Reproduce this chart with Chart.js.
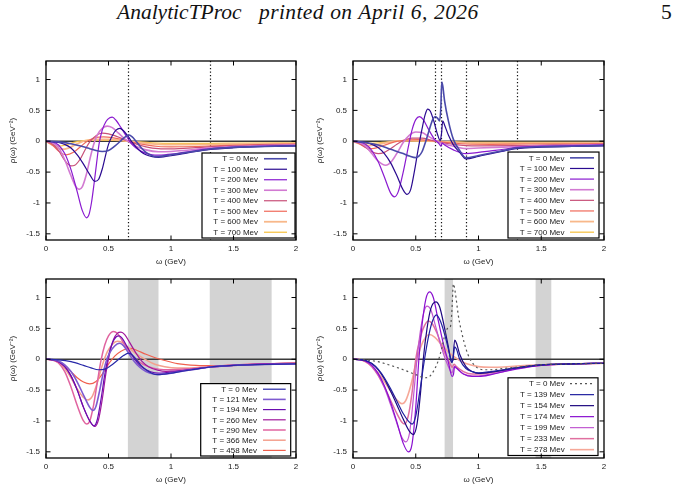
<!DOCTYPE html>
<html>
<head>
<meta charset="utf-8">
<script src="https://cdn.jsdelivr.net/npm/chart.js@4.4.1/dist/chart.umd.min.js"></script>
<style>
html,body{margin:0;padding:0;background:#fff;}
body{width:675px;height:490px;position:relative;overflow:hidden;}
.hd{position:absolute;top:2px;font-family:"Liberation Serif","Times New Roman",serif;font-size:21.5px;line-height:21.5px;color:#111;white-space:nowrap;}
.it{font-style:italic;}
canvas{position:absolute;}
</style>
</head>
<body>
<div class="hd it" style="left:117px">AnalyticTProc</div>
<div class="hd it" style="left:259px;letter-spacing:0.4px;word-spacing:0.5px">printed on April 6, 2026</div>
<div class="hd" style="left:661px">5</div>
<canvas id="tl" width="340" height="220" style="left:0;top:55px"></canvas>
<canvas id="tr" width="340" height="220" style="left:307px;top:55px"></canvas>
<canvas id="bl" width="340" height="220" style="left:0;top:273px"></canvas>
<canvas id="br" width="340" height="220" style="left:307px;top:273px"></canvas>
<script>
// ---------- axis ticks ----------
const X_TICKS = [0, 0.5, 1, 1.5, 2];
const Y_TICKS = [-1.5, -1, -0.5, 0, 0.5, 1];
const X_RANGE = [0, 2];
const Y_RANGE = [-1.6, 1.3];
const X_TITLE = 'ω (GeV)';
const Y_TITLE = 'ρ(ω) (GeV⁻²)';

// ---------- top-left panel ----------
const TL_LABELS = ['T = 0 Mev','T = 100 Mev','T = 200 Mev','T = 300 Mev','T = 400 Mev','T = 500 Mev','T = 600 Mev','T = 700 Mev'];
const TL_T0 = [[0,0],[0.1,-0.01],[0.2,-0.04],[0.3,-0.09],[0.35,-0.12],[0.4,-0.15],[0.45,-0.165],[0.5,-0.15],[0.55,-0.08],[0.6,0.01],[0.64,0.08],[0.665,0.1],[0.69,0.07],[0.72,0],[0.76,-0.1],[0.8,-0.18],[0.85,-0.235],[0.88,-0.25],[0.92,-0.245],[1.0,-0.22],[1.1,-0.19],[1.2,-0.16],[1.3,-0.13],[1.5,-0.1],[1.75,-0.085],[2,-0.075]];
const TL_T100 = [[0,0],[0.05,-0.005],[0.1,-0.02],[0.15,-0.05],[0.2,-0.11],[0.25,-0.22],[0.3,-0.37],[0.35,-0.54],[0.39,-0.65],[0.42,-0.62],[0.45,-0.45],[0.48,-0.2],[0.5,-0.05],[0.53,0.09],[0.56,0.18],[0.59,0.21],[0.62,0.17],[0.66,0.07],[0.69,-0.02],[0.72,-0.09],[0.76,-0.17],[0.8,-0.22],[0.85,-0.25],[0.9,-0.26],[0.95,-0.25],[1.0,-0.235],[1.1,-0.2],[1.2,-0.165],[1.3,-0.135],[1.5,-0.105],[1.75,-0.085],[2,-0.075]];
const TL_T200 = [[0,0],[0.05,-0.01],[0.1,-0.06],[0.15,-0.2],[0.2,-0.46],[0.25,-0.82],[0.29,-1.12],[0.325,-1.24],[0.345,-1.18],[0.365,-0.98],[0.385,-0.68],[0.405,-0.35],[0.425,-0.04],[0.45,0.18],[0.48,0.32],[0.51,0.38],[0.53,0.39],[0.56,0.34],[0.6,0.22],[0.65,0.06],[0.68,-0.03],[0.72,-0.11],[0.78,-0.18],[0.85,-0.22],[0.9,-0.225],[0.95,-0.22],[1.0,-0.21],[1.1,-0.18],[1.2,-0.15],[1.3,-0.125],[1.5,-0.095],[1.75,-0.08],[2,-0.07]];
const TL_T300 = [[0,0],[0.05,-0.02],[0.1,-0.1],[0.15,-0.3],[0.2,-0.56],[0.24,-0.74],[0.265,-0.78],[0.29,-0.74],[0.32,-0.56],[0.35,-0.3],[0.38,-0.06],[0.41,0.1],[0.45,0.21],[0.49,0.245],[0.53,0.22],[0.58,0.13],[0.63,0.04],[0.68,-0.03],[0.72,-0.08],[0.8,-0.14],[0.9,-0.17],[1.0,-0.165],[1.1,-0.15],[1.2,-0.13],[1.3,-0.11],[1.5,-0.085],[1.75,-0.07],[2,-0.06]];
const TL_T400 = [[0,0],[0.05,-0.04],[0.1,-0.15],[0.15,-0.31],[0.2,-0.4],[0.23,-0.39],[0.27,-0.3],[0.31,-0.15],[0.35,-0.01],[0.4,0.09],[0.45,0.13],[0.5,0.12],[0.55,0.09],[0.6,0.05],[0.65,0.01],[0.7,-0.03],[0.8,-0.09],[0.9,-0.12],[1.0,-0.125],[1.1,-0.115],[1.2,-0.105],[1.3,-0.09],[1.5,-0.075],[1.75,-0.06],[2,-0.05]];
const TL_T500 = [[0,0],[0.05,-0.06],[0.1,-0.16],[0.16,-0.22],[0.22,-0.18],[0.28,-0.08],[0.33,0],[0.4,0.06],[0.46,0.07],[0.55,0.05],[0.65,0.01],[0.7,-0.02],[0.8,-0.06],[0.9,-0.085],[1.0,-0.09],[1.2,-0.085],[1.4,-0.07],[1.7,-0.055],[2,-0.045]];
const TL_T600 = [[0,0],[0.05,-0.06],[0.12,-0.13],[0.18,-0.11],[0.24,-0.05],[0.3,0],[0.4,0.03],[0.5,0.03],[0.6,0.015],[0.7,-0.01],[0.8,-0.035],[0.9,-0.05],[1.0,-0.055],[1.2,-0.055],[1.5,-0.045],[2,-0.035]];
const TL_T700 = [[0,0],[0.05,-0.05],[0.1,-0.08],[0.16,-0.06],[0.22,-0.02],[0.3,0.01],[0.4,0.02],[0.55,0.015],[0.7,-0.005],[0.85,-0.025],[1.0,-0.035],[1.3,-0.035],[1.6,-0.03],[2,-0.025]];
const TL_VLINES = [0.655, 1.31];

// ---------- top-right panel ----------
const TR_LABELS = TL_LABELS;
const TR_T0 = [[0,0],[0.1,-0.02],[0.2,-0.06],[0.3,-0.13],[0.4,-0.2],[0.45,-0.24],[0.5,-0.265],[0.525,-0.24],[0.55,-0.17],[0.58,0],[0.61,0.2],[0.635,0.35],[0.655,0.4],[0.675,0.37],[0.69,0.33],[0.7,0.55],[0.707,0.96],[0.715,0.9],[0.73,0.65],[0.76,0.33],[0.8,0.03],[0.85,-0.15],[0.9,-0.27],[1.0,-0.23],[1.1,-0.19],[1.2,-0.15],[1.3,-0.11],[1.5,-0.09],[1.75,-0.08],[2,-0.07]];
const TR_T100 = [[0,0],[0.05,-0.005],[0.1,-0.02],[0.15,-0.05],[0.2,-0.1],[0.25,-0.2],[0.3,-0.35],[0.35,-0.56],[0.4,-0.79],[0.43,-0.86],[0.46,-0.78],[0.49,-0.48],[0.52,-0.12],[0.55,0.2],[0.575,0.43],[0.595,0.52],[0.615,0.49],[0.645,0.32],[0.675,0.1],[0.695,0.01],[0.705,0.12],[0.715,0.33],[0.73,0.26],[0.76,0.1],[0.8,-0.06],[0.85,-0.18],[0.9,-0.285],[1.0,-0.245],[1.1,-0.2],[1.2,-0.16],[1.3,-0.12],[1.5,-0.095],[1.75,-0.085],[2,-0.075]];
const TR_T200 = [[0,0],[0.05,-0.01],[0.1,-0.05],[0.15,-0.15],[0.2,-0.33],[0.25,-0.58],[0.3,-0.84],[0.33,-0.9],[0.36,-0.82],[0.4,-0.5],[0.44,-0.1],[0.47,0.18],[0.5,0.35],[0.53,0.4],[0.56,0.35],[0.6,0.2],[0.65,0.03],[0.69,-0.05],[0.7,-0.08],[0.71,-0.03],[0.73,-0.06],[0.8,-0.14],[0.9,-0.2],[1.0,-0.18],[1.1,-0.155],[1.2,-0.13],[1.3,-0.1],[1.5,-0.08],[1.75,-0.07],[2,-0.06]];
const TR_T300 = [[0,0],[0.05,-0.02],[0.1,-0.08],[0.15,-0.2],[0.2,-0.32],[0.26,-0.39],[0.31,-0.32],[0.36,-0.16],[0.4,-0.02],[0.45,0.1],[0.5,0.15],[0.55,0.14],[0.6,0.08],[0.66,0.01],[0.7,-0.03],[0.8,-0.08],[0.9,-0.12],[1.0,-0.11],[1.2,-0.095],[1.4,-0.08],[1.7,-0.065],[2,-0.055]];
const TR_T400 = [[0,0],[0.05,-0.03],[0.1,-0.1],[0.15,-0.17],[0.2,-0.2],[0.25,-0.18],[0.3,-0.12],[0.35,-0.05],[0.4,0.01],[0.47,0.05],[0.55,0.05],[0.62,0.02],[0.7,-0.02],[0.8,-0.05],[0.9,-0.07],[1.0,-0.075],[1.3,-0.07],[1.6,-0.06],[2,-0.05]];
const TR_T500 = [[0,0],[0.05,-0.04],[0.1,-0.1],[0.15,-0.12],[0.2,-0.1],[0.27,-0.05],[0.33,-0.01],[0.42,0.02],[0.52,0.025],[0.62,0.01],[0.7,-0.01],[0.8,-0.03],[0.9,-0.045],[1.1,-0.05],[1.4,-0.045],[2,-0.04]];
const TR_T600 = [[0,0],[0.05,-0.04],[0.12,-0.07],[0.18,-0.06],[0.25,-0.03],[0.33,0],[0.45,0.01],[0.6,0.005],[0.75,-0.01],[0.9,-0.025],[1.2,-0.03],[1.6,-0.03],[2,-0.025]];
const TR_T700 = [[0,0],[0.05,-0.025],[0.1,-0.04],[0.18,-0.03],[0.28,-0.01],[0.4,0.005],[0.6,0],[0.8,-0.01],[1.0,-0.02],[1.5,-0.02],[2,-0.02]];
const TR_VLINES = [0.656, 0.699, 0.903, 1.31];

// ---------- bottom-left panel ----------
const BL_LABELS = ['T = 0 Mev','T = 121 Mev','T = 194 Mev','T = 260 Mev','T = 290 Mev','T = 366 Mev','T = 458 Mev'];
const BL_T0 = [[0,0],[0.1,-0.01],[0.2,-0.04],[0.3,-0.1],[0.36,-0.14],[0.42,-0.17],[0.47,-0.16],[0.52,-0.1],[0.57,-0.02],[0.62,0.06],[0.66,0.1],[0.69,0.07],[0.72,0],[0.76,-0.1],[0.8,-0.17],[0.85,-0.23],[0.89,-0.25],[0.95,-0.24],[1.0,-0.225],[1.1,-0.19],[1.2,-0.16],[1.3,-0.13],[1.5,-0.1],[1.75,-0.085],[2,-0.075]];
const BL_T121 = [[0,0],[0.05,-0.005],[0.1,-0.03],[0.15,-0.09],[0.2,-0.2],[0.25,-0.37],[0.3,-0.58],[0.35,-0.78],[0.375,-0.83],[0.4,-0.76],[0.43,-0.5],[0.46,-0.2],[0.49,0.02],[0.53,0.17],[0.57,0.25],[0.59,0.26],[0.62,0.22],[0.66,0.1],[0.7,-0.02],[0.75,-0.13],[0.8,-0.2],[0.86,-0.24],[0.9,-0.245],[0.95,-0.24],[1.0,-0.225],[1.1,-0.19],[1.2,-0.16],[1.3,-0.13],[1.5,-0.1],[1.75,-0.085],[2,-0.075]];
const BL_T194 = [[0,0],[0.05,-0.01],[0.1,-0.04],[0.15,-0.12],[0.2,-0.27],[0.25,-0.5],[0.3,-0.78],[0.35,-1.0],[0.385,-1.08],[0.41,-0.98],[0.44,-0.65],[0.47,-0.25],[0.5,0.06],[0.53,0.26],[0.56,0.36],[0.585,0.38],[0.61,0.34],[0.65,0.2],[0.7,0.03],[0.75,-0.1],[0.8,-0.17],[0.87,-0.22],[0.92,-0.225],[1.0,-0.21],[1.1,-0.18],[1.2,-0.155],[1.3,-0.13],[1.5,-0.1],[1.75,-0.08],[2,-0.07]];
const BL_T260 = [[0,0],[0.05,-0.01],[0.1,-0.04],[0.15,-0.12],[0.2,-0.27],[0.25,-0.5],[0.3,-0.78],[0.35,-1.0],[0.39,-1.09],[0.42,-0.98],[0.45,-0.65],[0.48,-0.22],[0.51,0.1],[0.54,0.32],[0.57,0.42],[0.6,0.44],[0.63,0.4],[0.67,0.27],[0.72,0.1],[0.77,-0.04],[0.82,-0.12],[0.9,-0.18],[0.96,-0.195],[1.05,-0.19],[1.15,-0.17],[1.3,-0.13],[1.5,-0.1],[1.75,-0.075],[2,-0.065]];
const BL_T290 = [[0,0],[0.05,-0.01],[0.1,-0.06],[0.15,-0.2],[0.2,-0.45],[0.25,-0.75],[0.3,-1.0],[0.325,-1.05],[0.35,-1.0],[0.38,-0.75],[0.41,-0.38],[0.44,-0.02],[0.47,0.23],[0.5,0.38],[0.54,0.45],[0.57,0.42],[0.61,0.3],[0.65,0.17],[0.7,0.04],[0.75,-0.05],[0.82,-0.12],[0.9,-0.16],[1.0,-0.17],[1.1,-0.16],[1.2,-0.145],[1.3,-0.125],[1.5,-0.095],[1.75,-0.075],[2,-0.065]];
const BL_T366 = [[0,0],[0.05,-0.01],[0.1,-0.05],[0.15,-0.15],[0.2,-0.3],[0.25,-0.48],[0.3,-0.62],[0.335,-0.66],[0.37,-0.6],[0.41,-0.38],[0.45,-0.1],[0.49,0.12],[0.53,0.24],[0.57,0.29],[0.61,0.27],[0.66,0.19],[0.72,0.09],[0.8,-0.01],[0.87,-0.08],[0.95,-0.12],[1.05,-0.14],[1.15,-0.14],[1.3,-0.12],[1.5,-0.1],[1.75,-0.075],[2,-0.06]];
const BL_T458 = [[0,0],[0.05,-0.01],[0.1,-0.04],[0.15,-0.1],[0.2,-0.2],[0.25,-0.3],[0.3,-0.37],[0.35,-0.4],[0.4,-0.36],[0.45,-0.24],[0.5,-0.08],[0.55,0.05],[0.6,0.13],[0.65,0.17],[0.68,0.175],[0.72,0.15],[0.8,0.08],[0.88,0.02],[0.95,-0.02],[1.05,-0.07],[1.2,-0.1],[1.35,-0.105],[1.5,-0.095],[1.75,-0.075],[2,-0.06]];
const BL_BANDS = [[0.655, 0.9], [1.31, 1.805]];

// ---------- bottom-right panel ----------
const BR_LABELS = ['T = 0 Mev','T = 139 Mev','T = 154 Mev','T = 174 Mev','T = 199 Mev','T = 233 Mev','T = 278 Mev'];
const BR_T0 = [[0,0],[0.1,-0.01],[0.2,-0.04],[0.3,-0.1],[0.4,-0.17],[0.5,-0.25],[0.55,-0.29],[0.58,-0.3],[0.61,-0.28],[0.645,-0.18],[0.68,-0.02],[0.71,0.2],[0.735,0.42],[0.755,0.5],[0.775,0.52],[0.787,0.75],[0.8,1.22],[0.815,1.08],[0.84,0.7],[0.87,0.4],[0.9,0.17],[0.93,0.01],[0.97,-0.1],[1.0,-0.15],[1.05,-0.17],[1.1,-0.17],[1.2,-0.15],[1.3,-0.13],[1.5,-0.09],[1.75,-0.075],[2,-0.065]];
const BR_T139 = [[0,0],[0.05,-0.005],[0.1,-0.02],[0.15,-0.07],[0.2,-0.16],[0.25,-0.3],[0.3,-0.48],[0.35,-0.68],[0.4,-0.88],[0.44,-1.0],[0.47,-1.05],[0.5,-0.92],[0.53,-0.55],[0.57,0],[0.6,0.35],[0.63,0.6],[0.665,0.72],[0.7,0.6],[0.74,0.33],[0.77,0.08],[0.79,-0.05],[0.8,0.05],[0.81,0.2],[0.825,0.16],[0.85,0.0],[0.9,-0.15],[0.95,-0.2],[1.0,-0.22],[1.1,-0.2],[1.2,-0.17],[1.3,-0.14],[1.5,-0.09],[1.75,-0.075],[2,-0.065]];
const BR_T154 = [[0,0],[0.05,-0.005],[0.1,-0.02],[0.15,-0.07],[0.2,-0.17],[0.25,-0.32],[0.3,-0.52],[0.35,-0.74],[0.4,-0.97],[0.45,-1.17],[0.48,-1.22],[0.51,-1.05],[0.54,-0.5],[0.56,0],[0.59,0.5],[0.62,0.82],[0.66,0.93],[0.69,0.85],[0.73,0.5],[0.76,0.2],[0.785,-0.05],[0.795,-0.02],[0.81,0.31],[0.825,0.26],[0.85,0.08],[0.9,-0.12],[0.95,-0.2],[1.0,-0.23],[1.1,-0.21],[1.2,-0.175],[1.3,-0.14],[1.5,-0.09],[1.75,-0.075],[2,-0.065]];
const BR_T174 = [[0,0],[0.05,-0.005],[0.1,-0.03],[0.15,-0.1],[0.2,-0.23],[0.25,-0.43],[0.3,-0.7],[0.35,-1.02],[0.4,-1.36],[0.44,-1.5],[0.47,-1.38],[0.5,-0.78],[0.525,0],[0.55,0.55],[0.58,0.97],[0.61,1.09],[0.64,1.0],[0.68,0.62],[0.72,0.25],[0.76,-0.05],[0.79,-0.28],[0.8,-0.25],[0.81,-0.12],[0.83,-0.15],[0.88,-0.24],[0.95,-0.28],[1.0,-0.28],[1.1,-0.25],[1.2,-0.2],[1.3,-0.16],[1.5,-0.1],[1.75,-0.075],[2,-0.065]];
const BR_T199 = [[0,0],[0.05,-0.005],[0.1,-0.03],[0.15,-0.11],[0.2,-0.25],[0.25,-0.46],[0.3,-0.74],[0.35,-1.04],[0.39,-1.27],[0.42,-1.34],[0.45,-1.2],[0.48,-0.65],[0.51,0],[0.54,0.5],[0.57,0.8],[0.59,0.86],[0.62,0.8],[0.66,0.52],[0.7,0.22],[0.74,-0.02],[0.78,-0.2],[0.79,-0.22],[0.805,-0.12],[0.82,-0.14],[0.88,-0.24],[0.95,-0.27],[1.0,-0.27],[1.1,-0.24],[1.2,-0.2],[1.3,-0.15],[1.5,-0.1],[1.75,-0.075],[2,-0.065]];
const BR_T233 = [[0,0],[0.05,-0.005],[0.1,-0.04],[0.15,-0.12],[0.2,-0.26],[0.25,-0.45],[0.3,-0.67],[0.35,-0.88],[0.39,-1.02],[0.41,-1.05],[0.44,-0.92],[0.47,-0.55],[0.5,0],[0.53,0.3],[0.56,0.5],[0.6,0.62],[0.63,0.58],[0.67,0.42],[0.71,0.2],[0.75,0.02],[0.78,-0.1],[0.79,-0.13],[0.805,-0.08],[0.82,-0.11],[0.88,-0.2],[0.95,-0.24],[1.0,-0.24],[1.1,-0.22],[1.2,-0.18],[1.3,-0.14],[1.5,-0.095],[1.75,-0.075],[2,-0.065]];
const BR_T278 = [[0,0],[0.05,-0.005],[0.1,-0.04],[0.15,-0.11],[0.2,-0.22],[0.25,-0.36],[0.3,-0.52],[0.35,-0.66],[0.39,-0.72],[0.42,-0.67],[0.46,-0.43],[0.5,-0.08],[0.54,0.2],[0.58,0.36],[0.61,0.4],[0.65,0.36],[0.7,0.25],[0.75,0.14],[0.8,0.05],[0.85,-0.02],[0.9,-0.07],[1.0,-0.12],[1.1,-0.13],[1.2,-0.125],[1.3,-0.11],[1.5,-0.09],[1.75,-0.075],[2,-0.065]];
const BR_BANDS = [[0.73, 0.797], [1.455, 1.58]];

// ---------- styles ----------
const TOP_COLORS = ['#4a4aaa','#2a0a90','#8a1ad0','#d27ad2','#c85078','#f06a5a','#f8b88a','#f6c44a'];
const TOP_WIDTHS = [1.6,1.2,1.2,1.6,1.2,1.2,1.8,1.3];
const BL_COLORS = ['#2828a8','#7e5ad0','#6a0cb0','#a0189c','#e064a0','#f4a08e','#f0604e'];
const BL_WIDTHS = [1.2,1.6,1.2,1.2,1.5,1.5,1.2];
const BR_COLORS = ['#555555','#2020a0','#1e0880','#8a10d0','#c058d0','#e070a0','#f6a898'];
const BR_WIDTHS = [1.2,1.2,1.2,1.2,1.2,1.5,1.6];
const BR_DASHES = [[2,3],[],[],[],[],[],[]];

Chart.defaults.font.family = '"Liberation Sans", Arial, sans-serif';
Chart.defaults.color = '#1a1a1a';

function line(ctx, x0, y0, x1, y1) { ctx.beginPath(); ctx.moveTo(x0, y0); ctx.lineTo(x1, y1); ctx.stroke(); }

const panelPlugin = {
  id: 'panel',
  beforeDatasetsDraw(chart, args, o) {
    const ctx = chart.ctx, a = chart.chartArea, xs = chart.scales.x, ys = chart.scales.y;
    ctx.save();
    (o.bands || []).forEach(b => {
      const p0 = xs.getPixelForValue(b[0]), p1 = xs.getPixelForValue(b[1]);
      ctx.fillStyle = '#d3d3d3';
      ctx.fillRect(p0, a.top, p1 - p0, a.bottom - a.top);
    });
    ctx.strokeStyle = '#111'; ctx.lineWidth = 1.2; ctx.setLineDash([1.3, 2.2]);
    (o.vlines || []).forEach(v => {
      const p = Math.round(xs.getPixelForValue(v)) + 0.5;
      line(ctx, p, a.top, p, a.bottom);
    });
    ctx.setLineDash([]);
    const py = ys.getPixelForValue(0);
    ctx.strokeStyle = '#3a3a3a'; ctx.lineWidth = 1.4;
    line(ctx, a.left, py, a.right, py);
    ctx.restore();
  },
  afterDraw(chart, args, o) {
    const ctx = chart.ctx, a = chart.chartArea, xs = chart.scales.x, ys = chart.scales.y;
    ctx.save();
    // legend
    const L = o.legend, ds = chart.data.datasets;
    const right = a.right - L.dr, bottom = a.bottom - L.db;
    const h = ds.length * L.pitch + 2 * L.pad;
    const left = right - L.w, top = bottom - h;
    ctx.fillStyle = '#fff'; ctx.fillRect(left, top, L.w, h);
    ctx.strokeStyle = '#000'; ctx.lineWidth = 1.2; ctx.strokeRect(left, top, L.w, h);
    ctx.font = '8px "Liberation Sans", Arial, sans-serif';
    ctx.textAlign = 'right'; ctx.textBaseline = 'middle';
    ds.forEach((d, i) => {
      const cy = top + L.pad + L.pitch * (i + 0.5);
      ctx.fillStyle = '#1a1a1a';
      ctx.fillText(d.label, left + L.tx, cy + 0.5);
      ctx.strokeStyle = d.borderColor; ctx.lineWidth = d.borderWidth;
      ctx.setLineDash(d.borderDash || []);
      line(ctx, left + L.s0, cy, left + L.s1, cy);
      ctx.setLineDash([]);
    });
    // ticks and border
    ctx.strokeStyle = '#000'; ctx.lineWidth = 1;
    X_TICKS.forEach(v => {
      const p = xs.getPixelForValue(v);
      line(ctx, p, a.bottom, p, a.bottom - 4.5);
      line(ctx, p, a.top, p, a.top + 4.5);
    });
    Y_TICKS.forEach(v => {
      const p = ys.getPixelForValue(v);
      line(ctx, a.left, p, a.left + 4.5, p);
      line(ctx, a.right, p, a.right - 4.5, p);
    });
    ctx.lineWidth = 1.3;
    ctx.strokeRect(a.left, a.top, a.right - a.left, a.bottom - a.top);
    ctx.restore();
  }
};

function build(id, labels, series, colors, widths, dashes, padR, panel) {
  const datasets = series.map((s, i) => ({
    label: labels[i],
    data: s.map(p => ({ x: p[0], y: p[1] })),
    borderColor: colors[i],
    borderWidth: widths[i],
    borderDash: dashes ? dashes[i] : [],
    pointRadius: 0,
    fill: false,
    cubicInterpolationMode: 'monotone'
  }));
  const tickFont = { size: 8 };
  return new Chart(document.getElementById(id), {
    type: 'line',
    data: { datasets },
    options: {
      responsive: false, animation: false, devicePixelRatio: 1,
      layout: { padding: { left: 0, right: padR, top: 6, bottom: 0 } },
      plugins: { legend: { display: false }, tooltip: { enabled: false }, panel },
      scales: {
        x: {
          type: 'linear', min: X_RANGE[0], max: X_RANGE[1],
          afterBuildTicks: s => { s.ticks = X_TICKS.map(v => ({ value: v })); },
          afterFit: s => { s.height = 35; s.paddingLeft = 0; s.paddingRight = 0; },
          ticks: { font: tickFont, padding: 4, maxRotation: 0, autoSkip: false, color: '#1a1a1a', callback: v => String(v) },
          grid: { display: false, drawTicks: false }, border: { display: false },
          title: { display: true, text: X_TITLE, font: { size: 8 }, color: '#1a1a1a', padding: { top: 0, bottom: 8 } }
        },
        y: {
          type: 'linear', min: Y_RANGE[0], max: Y_RANGE[1],
          afterBuildTicks: s => { s.ticks = Y_TICKS.map(v => ({ value: v })); },
          afterFit: s => { s.width = 46; s.paddingTop = 0; s.paddingBottom = 0; },
          ticks: { font: tickFont, padding: 6, autoSkip: false, color: '#1a1a1a', callback: v => String(v) },
          grid: { display: false, drawTicks: false }, border: { display: false },
          title: { display: true, text: '\u00a0'.repeat(9) + Y_TITLE, font: { size: 8 }, color: '#1a1a1a', padding: { top: 8, bottom: 0 } }
        }
      }
    },
    plugins: [panelPlugin]
  });
}

build('tl', TL_LABELS, [TL_T0, TL_T100, TL_T200, TL_T300, TL_T400, TL_T500, TL_T600, TL_T700],
  TOP_COLORS, TOP_WIDTHS, null, 44,
  { vlines: TL_VLINES, legend: { dr: 1, db: 2, w: 93, pitch: 10.5, pad: 0.5, tx: 56, s0: 62, s1: 85 } });
build('tr', TR_LABELS, [TR_T0, TR_T100, TR_T200, TR_T300, TR_T400, TR_T500, TR_T600, TR_T700],
  TOP_COLORS, TOP_WIDTHS, null, 43,
  { vlines: TR_VLINES, legend: { dr: 5, db: 2, w: 91, pitch: 10.62, pad: 0.5, tx: 56.5, s0: 62, s1: 86 } });
build('bl', BL_LABELS, [BL_T0, BL_T121, BL_T194, BL_T260, BL_T290, BL_T366, BL_T458],
  BL_COLORS, BL_WIDTHS, null, 44,
  { bands: BL_BANDS, legend: { dr: 5.3, db: 2, w: 90, pitch: 10.2, pad: 0.5, tx: 56.3, s0: 62.3, s1: 85 } });
build('br', BR_LABELS, [BR_T0, BR_T139, BR_T154, BR_T174, BR_T199, BR_T233, BR_T278],
  BR_COLORS, BR_WIDTHS, BR_DASHES, 43,
  { bands: BR_BANDS, legend: { dr: 6, db: 2.5, w: 90, pitch: 11, pad: 0.35, tx: 56.7, s0: 62, s1: 86 } });
</script>
</body>
</html>
